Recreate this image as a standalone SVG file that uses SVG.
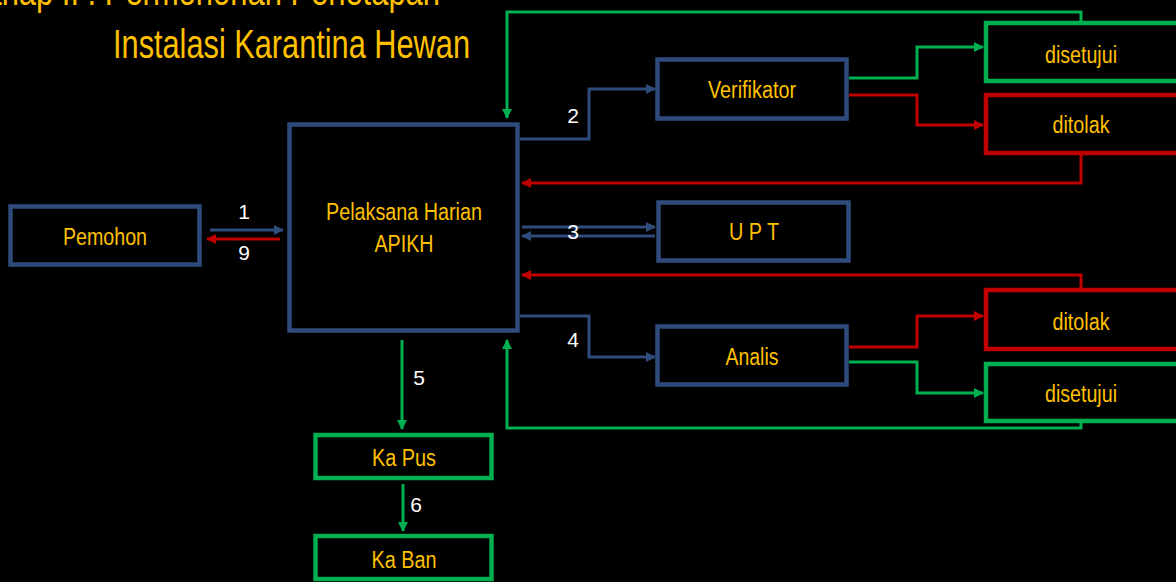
<svg xmlns="http://www.w3.org/2000/svg" width="1176" height="582" viewBox="0 0 1176 582">
<style>
.bx{fill:#000;stroke-width:4.5}
.b{stroke:#2F4B7C}
.g{stroke:#00B050}
.r{stroke:#C00000}
.t{font-family:"Liberation Sans",Arial,sans-serif;fill:#FFC000;font-size:23px;text-anchor:middle}
.n{font-family:"Liberation Sans",Arial,sans-serif;fill:#FFFFFF;font-size:21px;text-anchor:middle}
.ttl{font-family:"Liberation Sans",Arial,sans-serif;fill:#FFC000;font-size:40px}
.c{fill:none;stroke-width:3}
</style>
<defs>
<marker id="ab" markerUnits="userSpaceOnUse" markerWidth="10" markerHeight="10" refX="9" refY="5" orient="auto"><path d="M0,0 L10,5 L0,10 Z" fill="#2F4B7C"/></marker>
<marker id="ag" markerUnits="userSpaceOnUse" markerWidth="10" markerHeight="10" refX="9" refY="5" orient="auto"><path d="M0,0 L10,5 L0,10 Z" fill="#00B050"/></marker>
<marker id="ar" markerUnits="userSpaceOnUse" markerWidth="10" markerHeight="10" refX="9" refY="5" orient="auto"><path d="M0,0 L10,5 L0,10 Z" fill="#C00000"/></marker>
</defs>
<rect width="1176" height="582" fill="#000"/>
<text class="ttl" x="-31" y="5" textLength="471" lengthAdjust="spacingAndGlyphs">Tahap II : Permohonan Penetapan</text>
<text class="ttl" x="113" y="58" textLength="357" lengthAdjust="spacingAndGlyphs">Instalasi Karantina Hewan</text>

<g id="connectors">
<path class="c b" d="M210,230 H283" marker-end="url(#ab)"/>
<path class="c r" d="M280,239 H207" marker-end="url(#ar)"/>
<path class="c b" d="M520,139 H589 V89 H655" marker-end="url(#ab)"/>
<path class="c b" d="M522,227 H655" marker-end="url(#ab)"/>
<path class="c b" d="M655,236 H522" marker-end="url(#ab)"/>
<path class="c b" d="M520,316 H589 V357 H655" marker-end="url(#ab)"/>
<path class="c g" d="M402,340 V429" marker-end="url(#ag)"/>
<path class="c g" d="M403,484 V531" marker-end="url(#ag)"/>
<path class="c g" d="M849,78 H917 V47 H983" marker-end="url(#ag)"/>
<path class="c r" d="M849,95 H917 V125 H983" marker-end="url(#ar)"/>
<path class="c g" d="M1081,21 V12 H507 V118" marker-end="url(#ag)"/>
<path class="c r" d="M1081,155 V183 H522" marker-end="url(#ar)"/>
<path class="c r" d="M1081,288 V275 H522" marker-end="url(#ar)"/>
<path class="c r" d="M849,347 H917 V316 H983" marker-end="url(#ar)"/>
<path class="c g" d="M849,362 H917 V393 H983" marker-end="url(#ag)"/>
<path class="c g" d="M1081,423 V428 H507 V340" marker-end="url(#ag)"/>
<text class="n" x="244" y="219">1</text>
<text class="n" x="244" y="260">9</text>
<text class="n" x="573" y="123">2</text>
<text class="n" x="573" y="239">3</text>
<text class="n" x="573" y="347">4</text>
<text class="n" x="419" y="385">5</text>
<text class="n" x="416" y="512">6</text>
</g>

<g id="pemohon"><rect class="bx b" x="10.5" y="206.5" width="189" height="58"/><text class="t" x="105" y="245" textLength="84" lengthAdjust="spacingAndGlyphs">Pemohon</text></g>
<g id="pelaksana"><rect class="bx b" x="289.5" y="124.5" width="228" height="206"/><text class="t" x="404" y="220" textLength="156" lengthAdjust="spacingAndGlyphs">Pelaksana Harian</text><text class="t" x="404" y="252" textLength="59" lengthAdjust="spacingAndGlyphs">APIKH</text></g>
<g id="verifikator"><rect class="bx b" x="657.5" y="59.5" width="189" height="59"/><text class="t" x="752" y="98" textLength="88" lengthAdjust="spacingAndGlyphs">Verifikator</text></g>
<g id="upt"><rect class="bx b" x="658.5" y="202.5" width="190" height="58"/><text class="t" x="754" y="240" textLength="50" lengthAdjust="spacingAndGlyphs">U P T</text></g>
<g id="analis"><rect class="bx b" x="657.5" y="326.5" width="189" height="58"/><text class="t" x="752" y="365" textLength="53" lengthAdjust="spacingAndGlyphs">Analis</text></g>
<g id="disetujui1"><rect class="bx g" x="986" y="23" width="195" height="58"/><text class="t" x="1081" y="63" textLength="72" lengthAdjust="spacingAndGlyphs">disetujui</text></g>
<g id="ditolak1"><rect class="bx r" x="986" y="95" width="195" height="58"/><text class="t" x="1081" y="133" textLength="57" lengthAdjust="spacingAndGlyphs">ditolak</text></g>
<g id="ditolak2"><rect class="bx r" x="986" y="290" width="195" height="59"/><text class="t" x="1081" y="330" textLength="57" lengthAdjust="spacingAndGlyphs">ditolak</text></g>
<g id="disetujui2"><rect class="bx g" x="986" y="364" width="195" height="57"/><text class="t" x="1081" y="402" textLength="72" lengthAdjust="spacingAndGlyphs">disetujui</text></g>
<g id="kapus"><rect class="bx g" x="315.5" y="435" width="176" height="43"/><text class="t" x="404" y="466" textLength="64" lengthAdjust="spacingAndGlyphs">Ka Pus</text></g>
<g id="kaban"><rect class="bx g" x="315.5" y="536" width="176" height="43"/><text class="t" x="404" y="568" textLength="65" lengthAdjust="spacingAndGlyphs">Ka Ban</text></g>
</svg>
